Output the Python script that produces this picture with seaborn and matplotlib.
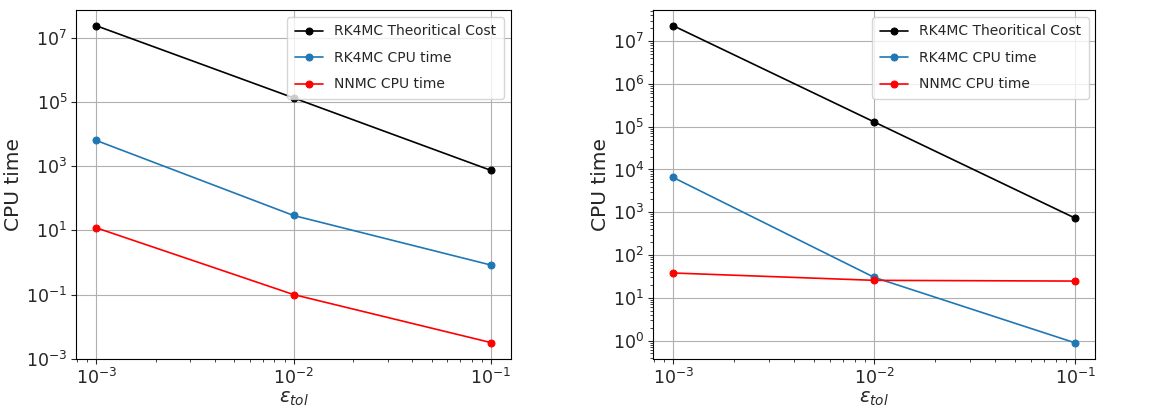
import matplotlib
matplotlib.use("Agg")
import matplotlib.pyplot as plt
import seaborn as sns

# tolerances on the x axis
eps_tol = [1e-3, 1e-2, 1e-1]

# left panel
theo_cost_a = [2.35e7, 1.33e5, 735]
rk4_cpu_a = [6.3e3, 29, 0.83]
nn_cpu_a = [12, 0.1, 0.0032]

# right panel
theo_cost_b = [2.3e7, 1.29e5, 724]
rk4_cpu_b = [6.5e3, 30, 0.88]
nn_cpu_b = [38, 25.6, 24.6]

labels = ["RK4MC Theoritical Cost", "RK4MC CPU time", "NNMC CPU time"]
colors = ["black", "#1f77b4", "red"]

sns.set_style("ticks")
plt.rcParams['font.family'] = ['DejaVu Sans']

fig, axes = plt.subplots(1, 2, figsize=(11.58, 4.11), dpi=100)
axes[0].set_position([0.066, 0.127, 0.375, 0.849])
axes[1].set_position([0.564, 0.127, 0.382, 0.849])

panels = [(theo_cost_a, rk4_cpu_a, nn_cpu_a), (theo_cost_b, rk4_cpu_b, nn_cpu_b)]
for ax, series in zip(axes, panels):
    for vals, lab, col in zip(series, labels, colors):
        sns.lineplot(x=eps_tol, y=vals, ax=ax, color=col, label=lab,
                     marker='o', markersize=5, markeredgecolor=col, linewidth=1.2)
    ax.set_xscale('log')
    ax.set_yscale('log')
    ax.grid(True, which='major', color='#b0b0b0', linewidth=0.8)
    ax.set_xlabel(r'$\varepsilon_{tol}$', fontsize=14, labelpad=1)
    ax.set_ylabel('CPU time', fontsize=14.5, labelpad=2)
    ax.tick_params(axis='both', which='major', labelsize=12.5, pad=3)
    for sp in ax.spines.values():
        sp.set_color('black')
        sp.set_linewidth(0.8)
    ax.legend(loc='upper right', fontsize=10, framealpha=0.8,
              labelspacing=0.9, borderpad=0.55)

axes[0].set_yticks([1e-3, 1e-1, 1e1, 1e3, 1e5, 1e7])
axes[1].set_yticks([1e0, 1e1, 1e2, 1e3, 1e4, 1e5, 1e6, 1e7])

fig.savefig('out.png', dpi=100)
